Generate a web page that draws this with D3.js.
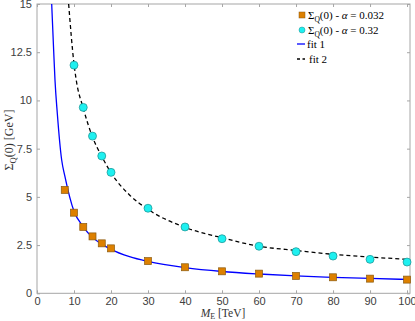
<!DOCTYPE html>
<html><head><meta charset="utf-8">
<script src="https://cdn.jsdelivr.net/npm/d3@7"></script>
<style>body{margin:0;background:#fff}svg{display:block}</style>
</head><body>
<svg id="c" width="415" height="321"></svg>
<script>
// Data
const massTeV = [7.5, 10, 12.5, 15, 17.5, 20, 30, 40, 50, 60, 70, 80, 90, 100];
const sigmaAlpha0032 = [5.36, 4.18, 3.44, 2.95, 2.59, 2.33, 1.67, 1.35, 1.14, 1.02, 0.90, 0.83, 0.76, 0.71];
const massTeV2 = [10, 12.5, 15, 17.5, 20, 30, 40, 50, 60, 70, 80, 90, 100];
const sigmaAlpha032 = [11.83, 9.64, 8.15, 7.12, 6.27, 4.41, 3.44, 2.83, 2.44, 2.16, 1.93, 1.76, 1.62];
// fit curves
const fit1X = [3.97, 4.5, 4.86, 5.5, 6.67, 7.5, 10, 12.5, 15, 17.5, 20, 25, 30, 40, 50, 60, 70, 80, 90, 100];
const fit1Y = [15, 12.6, 11.06, 9.3, 6.91, 6.1, 4.25, 3.45, 2.9, 2.55, 2.28, 1.9, 1.65, 1.33, 1.13, 1.0, 0.9, 0.83, 0.77, 0.72];
const fit2X = [8.55, 10, 10.6, 12.5, 15, 17.5, 20, 25, 30, 40, 50, 60, 70, 80, 90, 100];
const fit2Y = [15, 11.9, 11.06, 9.6, 8.1, 7.1, 6.25, 5.1, 4.35, 3.42, 2.88, 2.44, 2.22, 2.02, 1.88, 1.76];
const xTicks = [0, 10, 20, 30, 40, 50, 60, 70, 80, 90, 100];
const yTicks = [0, 2.5, 5, 7.5, 10, 12.5, 15];

const svg = d3.select("#c");
const L = 37, R = 410, T = 4, B = 293.3;
const x = d3.scaleLinear().domain([0, 100.8]).range([L, R]);
const y = d3.scaleLinear().domain([0, 15]).range([B, T]);
const axisCol = "#a6a6a6", tickTxt = "#404040";

// frame
svg.append("rect").attr("x", L).attr("y", T).attr("width", R - L).attr("height", B - T)
  .attr("fill", "none").attr("stroke", axisCol).attr("stroke-width", 1);

function styleAxis(g) {
  g.select(".domain").remove();
  g.selectAll(".tick line").attr("stroke", axisCol);
  g.selectAll(".tick text").attr("fill", tickTxt).attr("font-family", "Liberation Sans, Arial, sans-serif").attr("font-size", 11);
}
svg.append("g").attr("transform", `translate(0,${B})`)
  .call(d3.axisBottom(x).tickValues(xTicks).tickSizeInner(-3).tickSizeOuter(0).tickPadding(4).tickFormat(d3.format("d")))
  .call(styleAxis);
svg.append("g").attr("transform", `translate(0,${T})`)
  .call(d3.axisTop(x).tickValues(xTicks).tickSizeInner(-3).tickSizeOuter(0).tickFormat(""))
  .call(styleAxis);
svg.append("g").attr("transform", `translate(${L},0)`)
  .call(d3.axisLeft(y).tickValues(yTicks).tickSizeInner(-3).tickSizeOuter(0).tickPadding(5).tickFormat(d => d))
  .call(styleAxis);
svg.append("g").attr("transform", `translate(${R},0)`)
  .call(d3.axisRight(y).tickValues(yTicks).tickSizeInner(-3).tickSizeOuter(0).tickFormat(""))
  .call(styleAxis);

svg.append("clipPath").attr("id", "pc").append("rect")
  .attr("x", L).attr("y", T).attr("width", R - L).attr("height", B - T);
const plot = svg.append("g").attr("clip-path", "url(#pc)");

const line = d3.line().x(d => x(d[0])).y(d => y(d[1])).curve(d3.curveMonotoneX);
plot.append("path").datum(d3.zip(fit1X, fit1Y)).attr("d", line)
  .attr("fill", "none").attr("stroke", "#0000ff").attr("stroke-width", 1.3);
plot.append("path").datum(d3.zip(fit2X, fit2Y)).attr("d", line)
  .attr("fill", "none").attr("stroke", "#000").attr("stroke-width", 1.3).attr("stroke-dasharray", "4,3");

const sq = 7;
svg.append("g").selectAll("rect").data(d3.zip(massTeV, sigmaAlpha0032)).join("rect")
  .attr("x", d => x(d[0]) - sq / 2).attr("y", d => y(d[1]) - sq / 2)
  .attr("width", sq).attr("height", sq)
  .attr("fill", "#dd8000").attr("stroke", "#8a5a10").attr("stroke-width", 0.7);
svg.append("g").selectAll("circle").data(d3.zip(massTeV2, sigmaAlpha032)).join("circle")
  .attr("cx", d => x(d[0])).attr("cy", d => y(d[1])).attr("r", 4)
  .attr("fill", "#1ef0f0").attr("stroke", "#1a8f8f").attr("stroke-width", 0.7);

// Legend
const serif = "Liberation Serif, Times New Roman, serif";
const lg = svg.append("g").attr("font-family", serif).attr("font-size", 11).attr("fill", "#000");
function sigmaText(g, xx, yy, val) {
  const t = g.append("text").attr("x", xx).attr("y", yy);
  t.append("tspan").text("Σ");
  t.append("tspan").attr("font-size", 7.5).attr("dy", 2.5).text("Q");
  t.append("tspan").attr("dy", -2.5).text("(0) - ");
  t.append("tspan").attr("font-style", "italic").text("α");
  t.append("tspan").text(" = " + val);
}
lg.append("rect").attr("x", 299).attr("y", 12).attr("width", 6).attr("height", 6)
  .attr("fill", "#dd8000").attr("stroke", "#8a5a10").attr("stroke-width", 0.5);
sigmaText(lg, 308, 19, "0.032");
lg.append("circle").attr("cx", 302).attr("cy", 30).attr("r", 3)
  .attr("fill", "#1ef0f0").attr("stroke", "#1a8f8f").attr("stroke-width", 0.5);
sigmaText(lg, 308, 34, "0.32");
lg.append("line").attr("x1", 297).attr("x2", 305).attr("y1", 44).attr("y2", 44)
  .attr("stroke", "#0000ff").attr("stroke-width", 1.3);
lg.append("text").attr("x", 307).attr("y", 48).text("fit 1");
lg.append("line").attr("x1", 297).attr("x2", 305).attr("y1", 59).attr("y2", 59)
  .attr("stroke", "#000").attr("stroke-width", 1.3).attr("stroke-dasharray", "3,2.5");
lg.append("text").attr("x", 309).attr("y", 63).text("fit 2");

// Axis labels
const xl = svg.append("text").attr("x", 223).attr("y", 316.5).attr("text-anchor", "middle")
  .attr("font-family", serif).attr("font-size", 11.5).attr("fill", "#333");
xl.append("tspan").attr("font-style", "italic").text("M");
xl.append("tspan").attr("font-size", 8).attr("dy", 2).text("E");
xl.append("tspan").attr("dy", -2).text(" [TeV]");

const yl = svg.append("text").attr("transform", "translate(13,140) rotate(-90)").attr("text-anchor", "middle")
  .attr("font-family", serif).attr("font-size", 12).attr("fill", "#333");
yl.append("tspan").text("Σ");
yl.append("tspan").attr("font-size", 8.5).attr("dy", 2.5).text("Q");
yl.append("tspan").attr("dy", -2.5).text("(0) [GeV]");
</script>
</body></html>
